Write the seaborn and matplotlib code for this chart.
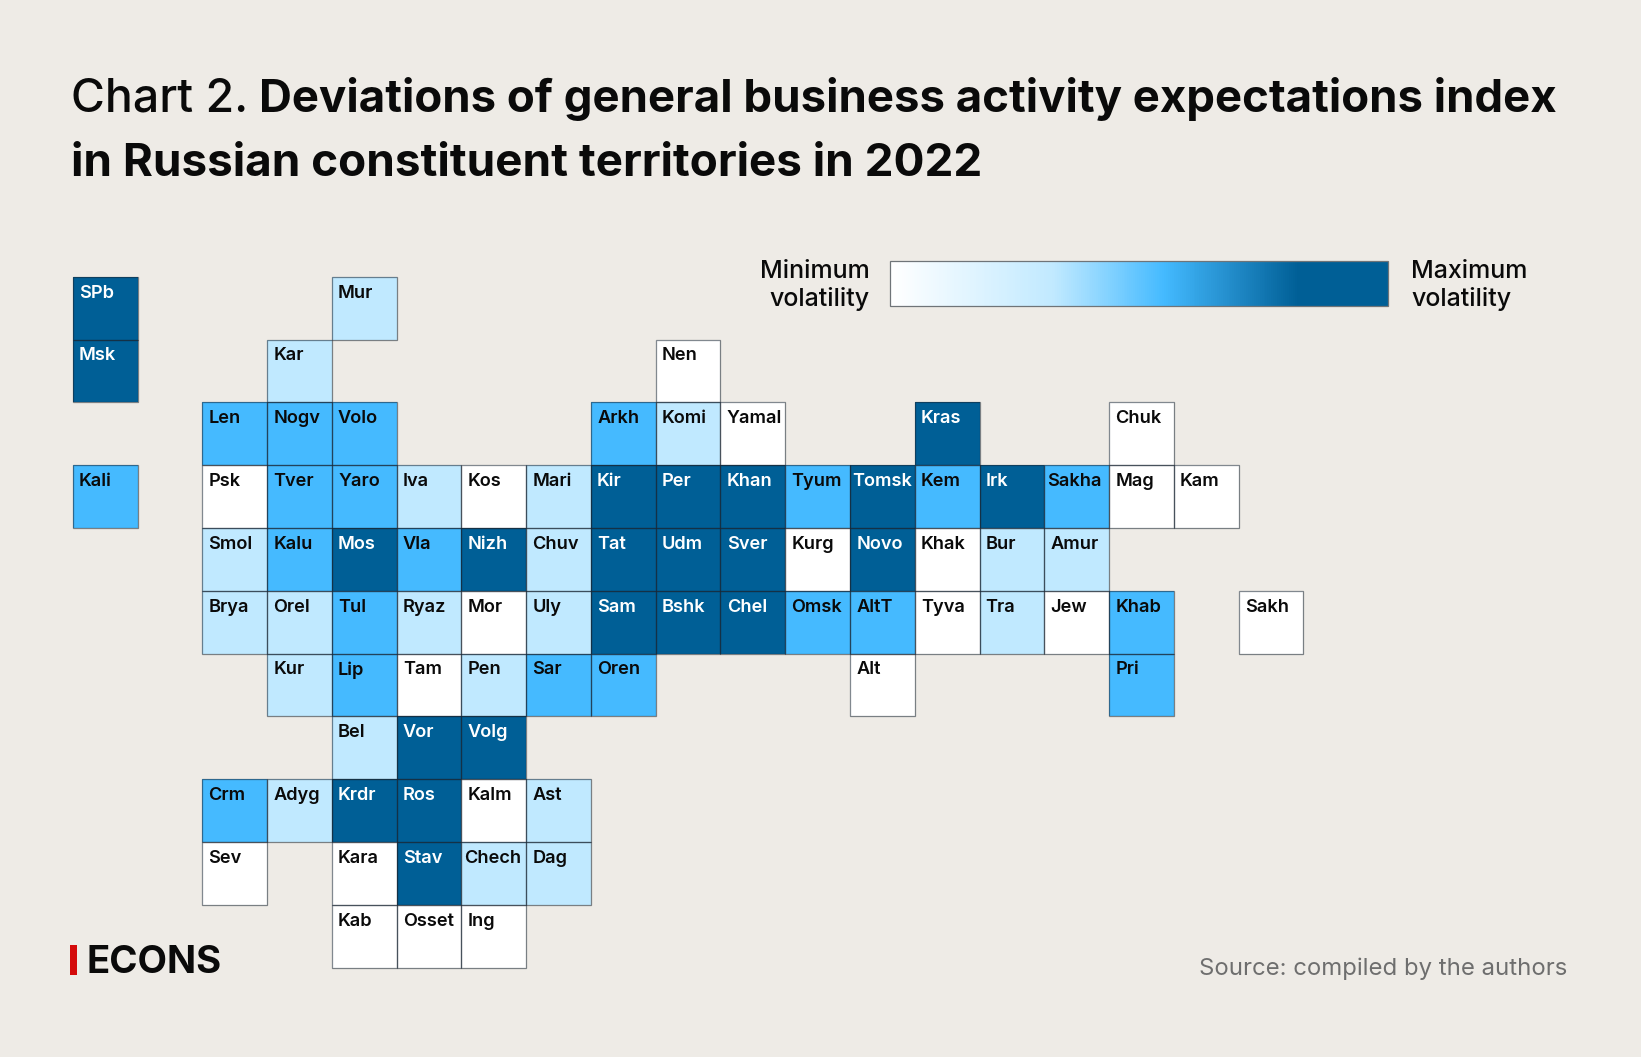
import matplotlib
matplotlib.use("Agg")
import matplotlib.pyplot as plt
from matplotlib.colors import LinearSegmentedColormap
from matplotlib.patches import Rectangle
import numpy as np
import seaborn as sns

BG = "#eeebe6"
FONT = "Inter"

# tile grid: each row is a list of labels, one per grid column ("" = no tile)
labels = [
    ["SPb","","","","Mur","","","","","","","","","","","","","","",],
    ["Msk","","","Kar","","","","","","Nen","","","","","","","","","",],
    ["","","Len","Nogv","Volo","","","","Arkh","Komi","Yamal","","","Kras","","","Chuk","","",],
    ["Kali","","Psk","Tver","Yaro","Iva","Kos","Mari","Kir","Per","Khan","Tyum","Tomsk","Kem","Irk","Sakha","Mag","Kam","",],
    ["","","Smol","Kalu","Mos","Vla","Nizh","Chuv","Tat","Udm","Sver","Kurg","Novo","Khak","Bur","Amur","","","",],
    ["","","Brya","Orel","Tul","Ryaz","Mor","Uly","Sam","Bshk","Chel","Omsk","AltT","Tyva","Tra","Jew","Khab","","Sakh",],
    ["","","","Kur","Lip","Tam","Pen","Sar","Oren","","","","Alt","","","","Pri","","",],
    ["","","","","Bel","Vor","Volg","","","","","","","","","","","","",],
    ["","","Crm","Adyg","Krdr","Ros","Kalm","Ast","","","","","","","","","","","",],
    ["","","Sev","","Kara","Stav","Chech","Dag","","","","","","","","","","","",],
    ["","","","","Kab","Osset","Ing","","","","","","","","","","","","",],
]
# volatility class per region, in reading order of the rows above
class_rows = [
    [3,1],
    [3,1,0],
    [2,2,2,2,1,0,3,0],
    [2,0,2,2,1,0,1,3,3,3,2,3,2,3,2,0,0],
    [1,2,3,2,3,1,3,3,3,0,3,0,1,1],
    [1,1,2,1,0,1,3,3,3,2,2,0,1,0,2,0],
    [1,2,0,1,2,2,0,2],
    [1,3,3],
    [2,1,3,3,0,1],
    [0,0,3,1,1],
    [0,0,0],
]
class_values = [0.0, 0.33, 0.55, 1.0]

title_regular = "Chart 2. "
title_bold_1 = "Deviations of general business activity expectations index"
title_bold_2 = "in Russian constituent territories in 2022"
legend_min = "Minimum\nvolatility"
legend_max = "Maximum\nvolatility"
brand = "ECONS"
source = "Source: compiled by the authors"

W, H = 1641, 1057
fig = plt.figure(figsize=(W/100, H/100), dpi=100, facecolor=BG)

def add_ax(x0, y0, x1, y1):
    return fig.add_axes([x0/W, 1 - y1/H, (x1-x0)/W, (y1-y0)/H])

cmap = LinearSegmentedColormap.from_list(
    "vol", [(0, "#ffffff"), (0.33, "#c0e9ff"), (0.55, "#44baff"), (0.82, "#005f96"), (1, "#005f96")])

grid = np.full((len(labels), len(labels[0])), np.nan)
for r, row in enumerate(labels):
    it = iter(class_rows[r])
    for c, name in enumerate(row):
        if name:
            grid[r, c] = class_values[next(it)]

ax = add_ax(72.8, 276.7, 72.8 + 19*64.77, 276.7 + 11*62.8)
cax = add_ax(890.2, 260.5, 1388, 306)
sns.heatmap(grid, mask=np.isnan(grid), cmap=cmap, vmin=0, vmax=1, ax=ax, cbar_ax=cax,
            cbar_kws={"orientation": "horizontal", "ticks": []},
            linewidths=0, square=False, xticklabels=False, yticklabels=False)
ax.set_facecolor("none")
ax.patch.set_alpha(0)
cbar = ax.collections[0].colorbar
cbar.outline.set_visible(True)
cbar.outline.set_edgecolor("#6f7478")
cbar.outline.set_linewidth(0.9)

for r, row in enumerate(labels):
    for c, name in enumerate(row):
        if name:
            v = grid[r, c]
            ax.add_patch(Rectangle((c, r), 1, 1, fill=False, linewidth=0.9,
                                   edgecolor=(0.1, 0.15, 0.2, 0.55), clip_on=False))
            ox = 0.095 if name not in ("Tomsk", "Chech", "Sakha") else 0.04
            ax.text(c + ox, r + 0.26, name, ha="left", va="center", fontsize=13.1,
                    family=FONT, weight="semibold", color="white" if v == 1 else "#0a0a0a")

# title: regular + bold run on one baseline
fig.canvas.draw()
rend = fig.canvas.get_renderer()
t1 = fig.text(71/W, 1 - 112/H, title_regular, fontsize=33.4, family=FONT, weight="medium", color="#0a0a0a", va="baseline")
fig.text(259/W, 1 - 112/H, title_bold_1, fontsize=32.8, family=FONT, weight="bold", color="#0a0a0a", va="baseline")
fig.text(71/W, 1 - 176.5/H, title_bold_2, fontsize=33, family=FONT, weight="bold", color="#0a0a0a", va="baseline")

fig.text(870/W, 1 - 285.5/H, legend_min, fontsize=18, family=FONT, weight="medium", ha="right", va="center", color="#0a0a0a", linespacing=1.25, multialignment="right")
fig.text(1411/W, 1 - 285.5/H, legend_max, fontsize=18, family=FONT, weight="medium", ha="left", va="center", color="#0a0a0a", linespacing=1.25)

fig.patches.append(Rectangle((70/W, 1 - 975/H), 6.5/W, 30/H, transform=fig.transFigure, facecolor="#d40b0b", edgecolor="none"))
fig.text(86.5/W, 1 - 973/H, brand, fontsize=27.6, family=FONT, weight="bold", color="#0a0a0a", va="baseline")
fig.text(1567/W, 1 - 975/H, source, fontsize=17.2, family=FONT, ha="right", va="baseline", color="#6e6e6e")

fig.savefig("out.png", dpi=100, facecolor=BG)
